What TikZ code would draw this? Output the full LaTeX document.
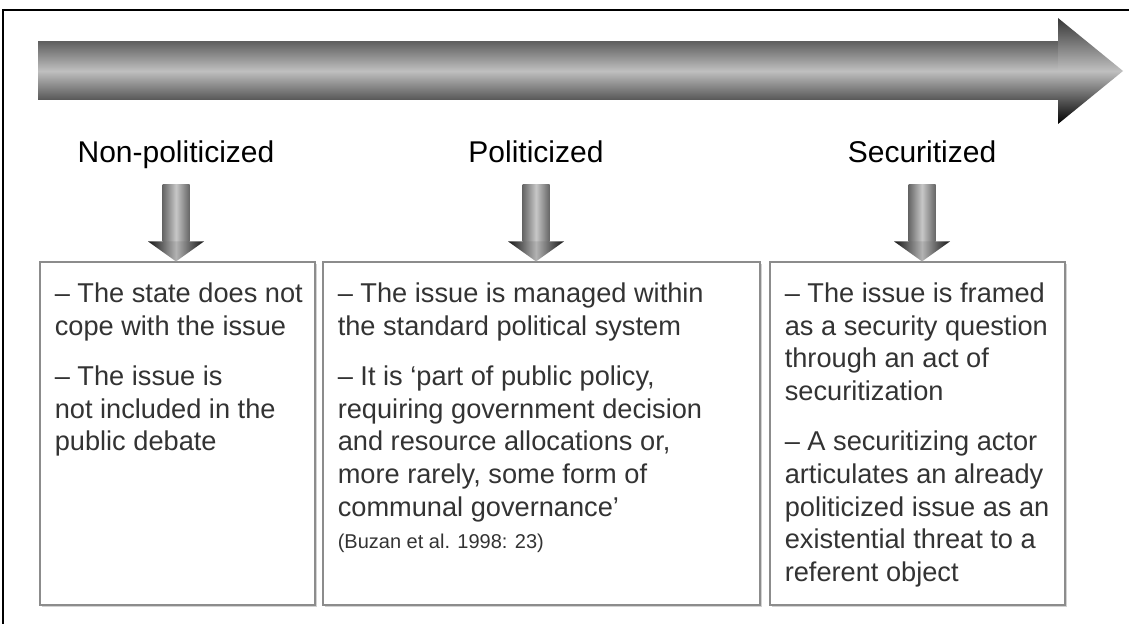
\documentclass[tikz,border=0pt]{standalone}
\usepackage{fontspec}
\setmainfont{Liberation Sans}
\usetikzlibrary{calc,shadows}
\begin{document}
\begin{tikzpicture}[x=0.5pt,y=-0.5pt,
  stage/.style={font=\fontsize{15}{18}\selectfont,anchor=base,inner sep=0pt},
  box/.style={draw=black!45,line width=0.6pt,fill=white,minimum height=171.5pt,inner sep=0pt,
    drop shadow={shadow xshift=0.8pt,shadow yshift=-0.8pt,opacity=0.35}},
  txt/.style={anchor=north west,inner sep=0pt,align=left,text=black!80,font=\fontsize{13.6}{16.3}\selectfont},
  shaftS/.style={left color=black!60,right color=black!60,middle color=black!22},
  headS/.style={left color=black!92,right color=black!92,middle color=black!30}]
\def\bw{0.6pt};

\useasboundingbox (0,0) rectangle (1129,624);
\fill[white] (0,0) rectangle (1129,624);
\draw[line width=1.1pt] (3,650) -- (3,10) -- (1150,10);

% big arrow
\shade[top color=black!62,bottom color=black!66,middle color=black!25] (38,42) rectangle (1058,100);
\shade[top color=black!78,bottom color=black,middle color=black!25] (1058,18) -- (1123,71) -- (1058,124) -- cycle;

% stages
\node[stage] (np) at (176,163) {Non-politicized};
\node[stage] (pol) at (536,163) {Politicized};
\node[stage] (sec) at (922,163) {Securitized};

% boxes
\node[box,minimum width=137.5pt] (npbox) at (177.5,433.5) {};
\node[box,minimum width=218.5pt] (polbox) at (541.5,433.5) {};
\node[box,minimum width=147.5pt] (secbox) at (917.5,433.5) {};

\node[txt] (nptxt) at ($(npbox.north west)+(15,21)$) {– The state does not\\cope with the issue\\[9pt]– The issue is\\not included in the\\public debate};
\node[txt] (poltxt) at ($(polbox.north west)+(15,21)$) {– The issue is managed within\\the standard political system\\[9pt]– It is ‘part of public policy,\\requiring government decision\\and resource allocations or,\\more rarely, some form of\\communal governance’\\{\fontsize{10}{16.3}\selectfont (Buzan et al. 1998: 23)}};
\node[txt] (sectxt) at ($(secbox.north west)+(15,21)$) {– The issue is framed\\as a security question\\through an act of\\securitization\\[9pt]– A securitizing actor\\articulates an already\\politicized issue as an\\existential threat to a\\referent object};

% down arrows
\foreach \l/\b in {np/npbox,pol/polbox,sec/secbox}{
  \coordinate (tip) at (\l.south |- \b.north);
  \shade[shaftS] ($(tip)+(-13.5,-77)$) rectangle ($(tip)+(13.5,-20)$);
  \shade[headS] ($(tip)+(-28,-20)$) -- ($(tip)+(28,-20)$) -- (tip) -- cycle;
}
\end{tikzpicture}
\end{document}
